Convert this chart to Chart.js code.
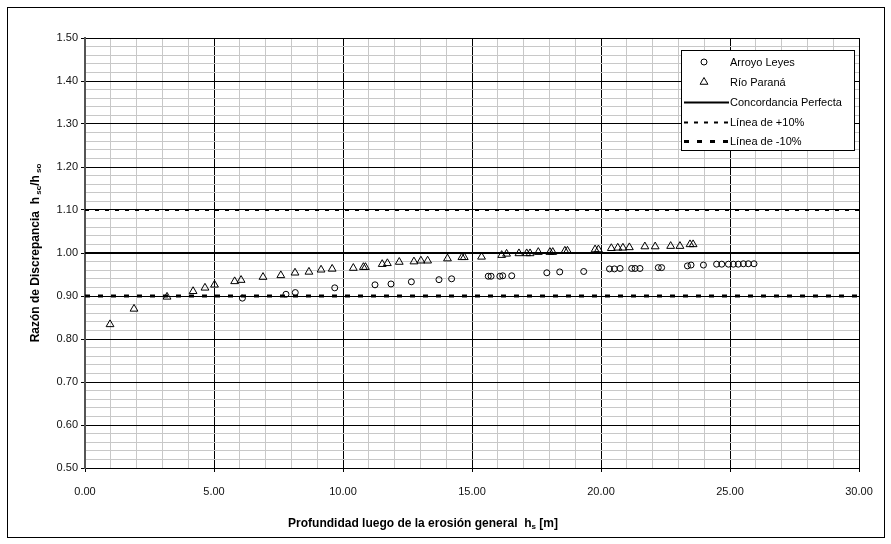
<!DOCTYPE html>
<html>
<head>
<meta charset="utf-8">
<script src="https://cdn.jsdelivr.net/npm/chart.js@4/dist/chart.umd.min.js"></script>
<style>
html,body{margin:0;padding:0;background:#fff;}
#wrap{position:absolute;left:0;top:0;width:891px;height:544px;}
</style>
</head>
<body>
<div id="wrap"><canvas id="c" width="891" height="544"></canvas></div>
<script>
// ---- data ----
const leyesX = [6.10, 7.79, 8.15, 9.68, 11.24, 11.86, 12.65, 13.72, 14.21, 15.63, 15.74, 16.08, 16.19, 16.54, 17.90, 18.40, 19.33, 20.33, 20.52, 20.74, 21.19, 21.32, 21.51, 22.22, 22.35, 23.35, 23.49, 23.97, 24.48, 24.68, 24.94, 25.13, 25.32, 25.52, 25.71, 25.93];
const leyesY = [0.895, 0.904, 0.908, 0.919, 0.926, 0.928, 0.933, 0.938, 0.940, 0.946, 0.946, 0.946, 0.947, 0.947, 0.954, 0.956, 0.957, 0.963, 0.963, 0.964, 0.964, 0.964, 0.964, 0.966, 0.966, 0.970, 0.972, 0.972, 0.974, 0.974, 0.974, 0.974, 0.974, 0.975, 0.975, 0.975];
const paranaX = [0.97, 1.90, 3.18, 4.19, 4.65, 5.02, 5.80, 6.05, 6.90, 7.59, 8.14, 8.68, 9.15, 9.58, 10.40, 10.79, 10.87, 11.52, 11.72, 12.18, 12.75, 13.02, 13.28, 14.05, 14.61, 14.70, 15.37, 16.15, 16.34, 16.82, 17.12, 17.25, 17.57, 18.02, 18.13, 18.60, 18.70, 19.77, 19.90, 20.40, 20.65, 20.85, 21.10, 21.70, 22.10, 22.70, 23.06, 23.45, 23.57];
const paranaY = [0.834, 0.870, 0.898, 0.911, 0.919, 0.926, 0.934, 0.937, 0.944, 0.948, 0.954, 0.956, 0.961, 0.963, 0.965, 0.967, 0.967, 0.974, 0.976, 0.979, 0.980, 0.982, 0.982, 0.987, 0.990, 0.990, 0.991, 0.995, 0.998, 0.999, 0.999, 0.999, 1.002, 1.002, 1.002, 1.005, 1.005, 1.008, 1.008, 1.011, 1.012, 1.012, 1.013, 1.015, 1.015, 1.016, 1.016, 1.020, 1.020];
const refX = [0, 30];
const perfectY = [1.0, 1.0];
const plusY = [1.10, 1.10];
const minusY = [0.90, 0.90];
const seriesNames = ['Arroyo Leyes', 'Río Paraná', 'Concordancia Perfecta', 'Línea de +10%', 'Línea de -10%'];
const xTitle = 'Profundidad luego de la erosión general  h';
const yTitle = 'Razón de Discrepancia  h';

const pts = (xs, ys) => xs.map((x, i) => ({x: x, y: ys[i]}));
const FONT = '"Liberation Sans", Arial, sans-serif';

const isMajorX = v => Math.abs(v / 5 - Math.round(v / 5)) < 1e-6;
const isMajorY = v => Math.abs(v * 10 - Math.round(v * 10)) < 1e-6;

const decor = {
  id: 'decor',
  beforeDraw(chart) {
    const ctx = chart.ctx;
    ctx.save();
    ctx.fillStyle = '#fff';
    ctx.fillRect(0, 0, chart.width, chart.height);
    ctx.restore();
  },
  afterDraw(chart) {
    const ctx = chart.ctx;
    const ca = chart.chartArea;
    ctx.save();
    // outer frame
    ctx.strokeStyle = '#000';
    ctx.lineWidth = 1;
    ctx.strokeRect(7.5, 7.5, 877, 530);

    // x title with subscript
    ctx.fillStyle = '#000';
    ctx.textBaseline = 'alphabetic';
    const bold = 'bold 12px ' + FONT;
    const sub = 'bold 8px ' + FONT;
    ctx.font = bold;
    const w1 = ctx.measureText(xTitle).width;
    ctx.font = sub;
    const w2 = ctx.measureText('s').width;
    ctx.font = bold;
    const w3 = ctx.measureText(' [m]').width;
    const tot = w1 + w2 + w3;
    let xs = 423 - tot / 2;
    const yb = 527;
    ctx.textAlign = 'left';
    ctx.fillText(xTitle, xs, yb);
    ctx.font = sub;
    ctx.fillText('s', xs + w1, yb + 2);
    ctx.font = bold;
    ctx.fillText(' [m]', xs + w1 + w2, yb);

    // y title rotated with subscripts
    ctx.save();
    ctx.translate(39, (ca.top + ca.bottom) / 2);
    ctx.rotate(-Math.PI / 2);
    const parts = [[yTitle, bold, 0], [' sc', sub, 2], ['/h', bold, 0], [' so', sub, 2]];
    let total = 0;
    parts.forEach(p => { ctx.font = p[1]; total += ctx.measureText(p[0]).width; });
    let px = -total / 2;
    parts.forEach(p => {
      ctx.font = p[1];
      ctx.fillText(p[0], px, p[2]);
      px += ctx.measureText(p[0]).width;
    });
    ctx.restore();

    // legend box
    const lx = 681, ly = 50, lw = 173, lh = 100;
    ctx.fillStyle = '#fff';
    ctx.fillRect(lx, ly, lw, lh);
    ctx.strokeStyle = '#000';
    ctx.lineWidth = 1;
    ctx.strokeRect(lx + 0.5, ly + 0.5, lw, lh);
    const rows = [62, 82, 102, 122, 141];
    const ds = chart.data.datasets;
    ctx.font = '11px ' + FONT;
    ctx.textBaseline = 'middle';
    ctx.textAlign = 'left';
    ds.forEach((d, i) => {
      const y = rows[i];
      if (d.showLine) {
        ctx.save();
        ctx.strokeStyle = d.borderColor;
        ctx.lineWidth = d.borderWidth;
        ctx.setLineDash(d.borderDash || []);
        ctx.beginPath();
        ctx.moveTo(684, y + 0.5);
        ctx.lineTo(729, y + 0.5);
        ctx.stroke();
        ctx.restore();
      } else {
        ctx.save();
        ctx.fillStyle = 'rgba(255,255,255,0)';
        ctx.strokeStyle = '#000';
        ctx.lineWidth = 1;
        Chart.helpers.drawPoint(ctx, {
          pointStyle: d.pointStyle, radius: d.pointRadius, borderWidth: 1, rotation: 0
        }, 704, y);
        ctx.restore();
      }
      ctx.fillStyle = '#000';
      ctx.font = '11px ' + FONT;
      ctx.textBaseline = 'middle';
      ctx.fillText(d.label, 730, y + 0.5);
    });
    ctx.restore();
  }
};

const chart = new Chart(document.getElementById('c'), {
  type: 'scatter',
  data: {
    datasets: [
      { label: seriesNames[0], data: pts(leyesX, leyesY), pointStyle: 'circle', pointRadius: 3,
        borderColor: '#000', backgroundColor: 'rgba(255,255,255,0)', borderWidth: 1, showLine: false, order: 1 },
      { label: seriesNames[1], data: pts(paranaX, paranaY), pointStyle: 'triangle', pointRadius: 4.5,
        borderColor: '#000', backgroundColor: 'rgba(255,255,255,0)', borderWidth: 1, showLine: false, order: 1 },
      { label: seriesNames[2], data: pts(refX, perfectY), showLine: true, pointRadius: 0,
        borderColor: '#000', borderWidth: 2, order: 2 },
      { label: seriesNames[3], data: pts(refX, plusY), showLine: true, pointRadius: 0,
        borderColor: '#000', borderWidth: 2, borderDash: [4, 6], order: 2 },
      { label: seriesNames[4], data: pts(refX, minusY), showLine: true, pointRadius: 0,
        borderColor: '#000', borderWidth: 3, borderDash: [5, 8], order: 2 }
    ]
  },
  options: {
    responsive: false,
    animation: false,
    events: [],
    layout: { padding: { left: 0, top: 38, right: 32, bottom: 0 } },
    plugins: { legend: { display: false }, tooltip: { enabled: false }, title: { display: false } },
    scales: {
      x: {
        type: 'linear', min: 0, max: 30,
        afterFit: s => { s.height = 76; },
        ticks: {
          stepSize: 1, autoSkip: false, maxRotation: 0, padding: 13,
          color: '#111', font: { family: FONT, size: 11 },
          callback: v => isMajorX(v) ? v.toFixed(2) : ''
        },
        grid: {
          color: c => isMajorX(c.tick.value) ? '#000' : '#c8c8c8',
          lineWidth: 1, tickLength: 4,
          tickColor: c => isMajorX(c.tick.value) ? '#000' : 'rgba(0,0,0,0)'
        },
        border: { color: '#000', width: 1 }
      },
      y: {
        type: 'linear', min: 0.5, max: 1.5,
        afterFit: s => { s.width = 85; },
        ticks: {
          stepSize: 0.02, autoSkip: false, padding: 3,
          color: '#111', font: { family: FONT, size: 11 },
          callback: v => isMajorY(v) ? v.toFixed(2) : ''
        },
        grid: {
          color: c => isMajorY(c.tick.value) ? '#000' : '#c8c8c8',
          lineWidth: 1, tickLength: 4,
          tickColor: c => isMajorY(c.tick.value) ? '#000' : 'rgba(0,0,0,0)'
        },
        border: { color: '#555', width: 2 }
      }
    }
  },
  plugins: [decor]
});
</script>
</body>
</html>
